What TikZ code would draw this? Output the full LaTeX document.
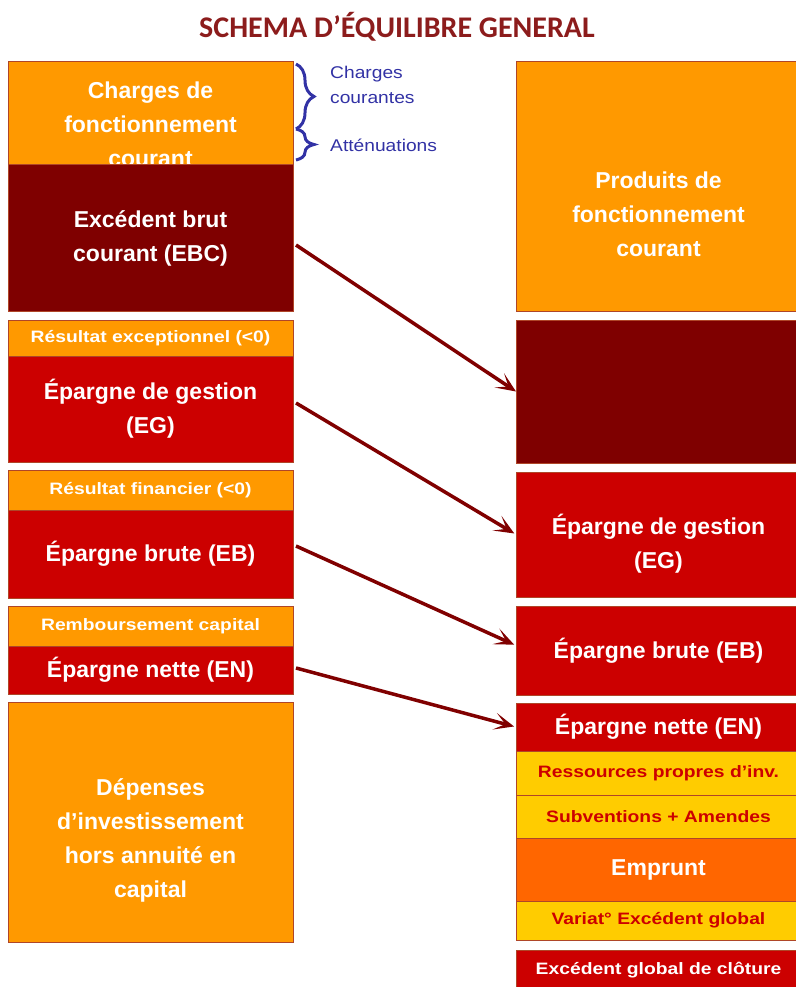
\documentclass[tikz,border=0pt]{standalone}
\usepackage{fontspec}
\setmainfont{Liberation Sans}
\newfontfamily\titlefont{Carlito}
\newfontfamily\widefont[FakeStretch=1.17]{Liberation Sans}
\newfontfamily\bluefont[FakeStretch=1.13]{Liberation Sans}
\usepackage{xcolor}
\usepackage{tikz}
\usetikzlibrary{positioning,calc,arrows.meta,decorations.pathreplacing}
\definecolor{eqorange}{RGB}{255,153,0}
\definecolor{eqdark}{RGB}{127,0,0}
\definecolor{eqred}{RGB}{204,0,0}
\definecolor{eqyellow}{RGB}{255,204,0}
\definecolor{eqloan}{RGB}{255,102,0}
\definecolor{eqline}{RGB}{128,0,0}
\definecolor{eqborder}{RGB}{175,70,40}
\definecolor{eqblue}{RGB}{50,50,165}
\definecolor{eqtitle}{RGB}{140,28,28}
\tikzset{
  eqfont/.style={font=\fontsize{23}{34}\selectfont\bfseries},
  eqsmall/.style={font=\widefont\fontsize{16.5}{20}\selectfont\bfseries},
  eqbox/.style={draw=eqborder, line width=1pt, anchor=north west, minimum width=285pt,
    inner sep=0pt, outer sep=0pt, align=center, text=white, eqfont},
  eqboxorange/.style={eqbox, fill=eqorange},
  eqboxdark/.style={eqbox, fill=eqdark},
  eqboxred/.style={eqbox, fill=eqred},
  eqboxloan/.style={eqbox, fill=eqloan},
  eqboxyellow/.style={eqbox, fill=eqyellow, text=eqred, eqsmall},
  eqtext/.style={text=white, align=center, eqfont},
  eqarrow/.style={-{Stealth[length=20pt,width=17pt,inset=11pt]}, line width=3.5pt, draw=eqline},
  eqbrace/.style={decorate, decoration={brace, amplitude=18pt, aspect=0.5}, line width=3pt, draw=eqblue},
  eqnote/.style={text=eqblue, anchor=west, align=left, inner sep=0pt,
    font=\bluefont\fontsize{17}{25}\selectfont},
}

\begin{document}
\begin{tikzpicture}[x=1pt, y=-1pt]
  \useasboundingbox (0,0) rectangle (795,987);

  % Title
  \node[text=eqtitle, font=\titlefont\fontsize{30}{34}\selectfont\bfseries] (title) at (397,27)
  {SCHEMA D’ÉQUILIBRE GENERAL};

  % Left column: charges and savings
  \node[eqboxorange, minimum height=103pt,
    label={[eqtext, yshift=-11pt]center:Charges de\\fonctionnement\\courant}] (chg) at (8,62) {};
  \node[eqboxdark, below=0pt of chg, minimum height=146pt] (ebc) {Excédent brut\\courant (EBC)};
  \node[eqboxorange, eqsmall, below=9pt of ebc, minimum height=36pt] (rexc) {Résultat exceptionnel (<0)};
  \node[eqboxred, below=0pt of rexc, minimum height=106pt] (eg) {Épargne de gestion\\(EG)};
  \node[eqboxorange, eqsmall, below=8pt of eg, minimum height=40pt] (rfin) {Résultat financier (<0)};
  \node[eqboxred, below=0pt of rfin, minimum height=88pt] (eb) {Épargne brute (EB)};
  \node[eqboxorange, eqsmall, below=8pt of eb, minimum height=40pt] (remb) {Remboursement capital};
  \node[eqboxred, below=0pt of remb, minimum height=48pt] (en) {Épargne nette (EN)};
  \node[eqboxorange, below=8pt of en, minimum height=240pt,
    label={[eqtext, yshift=-18pt]center:Dépenses\\d’investissement\\hors annuité en\\capital}] (dep) {};

  % Right column: products and resources
  \node[eqboxorange, minimum height=249pt,
    label={[eqtext, yshift=-27.5pt]center:Produits de\\fonctionnement\\courant}] (prod) at (516,62) {};
  \node[eqboxdark, below=9pt of prod, minimum height=143pt] (dr) {};
  \node[eqboxred, below=9pt of dr, minimum height=125pt,
    label={[eqtext, yshift=-9pt]center:Épargne de gestion\\(EG)}] (eg2) {};
  \node[eqboxred, below=9pt of eg2, minimum height=89pt] (eb2) {Épargne brute (EB)};
  \node[eqboxred, below=8pt of eb2, minimum height=48pt] (en2) {Épargne nette (EN)};
  \node[eqboxyellow, below=0pt of en2, minimum height=44pt] (rp) {Ressources propres d’inv.};
  \node[eqboxyellow, below=0pt of rp, minimum height=43pt] (sub) {Subventions + Amendes};
  \node[eqboxloan, below=0pt of sub, minimum height=63pt] (emp) {Emprunt};
  \node[eqboxyellow, below=0pt of emp, minimum height=39pt] (var) {Variat° Excédent global};
  \node[eqboxred, eqsmall, below=10pt of var, minimum height=40pt] (egc) {Excédent global de clôture};

  % Braces on the charges
  \coordinate (brtop) at (296,64);
  \coordinate (brmid) at (296,129);
  \coordinate (brbot) at (296,160);
  \draw[eqbrace] (brtop) -- (brmid);
  \draw[eqbrace] (brmid) -- (brbot);
  \node[eqnote] (cc) at (330,85) {Charges\\courantes};
  \node[eqnote] (att) at (330,145) {Atténuations};

  % Arrows left to right
  \draw[eqarrow] ([xshift=3pt, yshift=-7pt]ebc.east) -- (dr.west);
  \draw[eqarrow, shorten >=2pt] ([xshift=3pt, yshift=6pt]eg.east) -- (eg2.west);
  \draw[eqarrow, shorten >=2pt] ([xshift=3pt, yshift=8pt]eb.east) -- ([yshift=5pt]eb2.west);
  \draw[eqarrow, shorten >=2pt] ([xshift=3pt, yshift=2pt]en.east) -- (en2.west);
\end{tikzpicture}
\end{document}
